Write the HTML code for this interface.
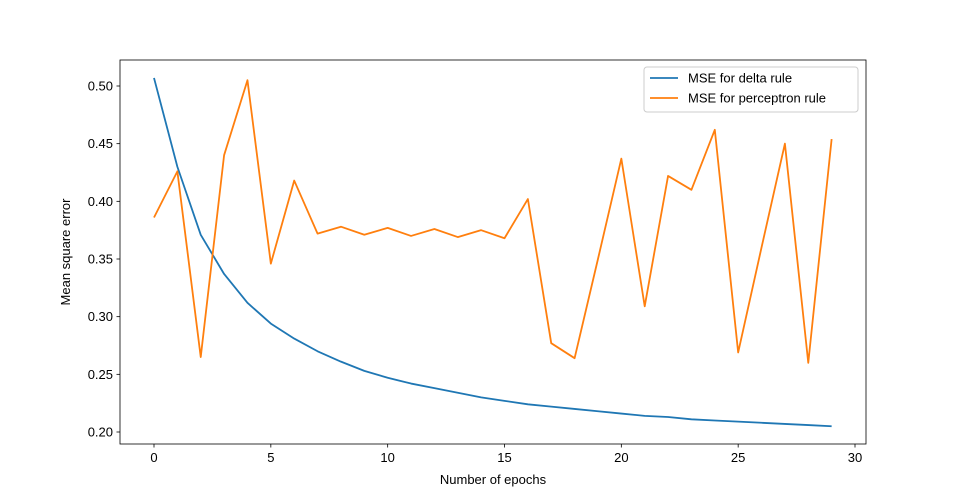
<!DOCTYPE html>
<html><head><meta charset="utf-8"><style>
body{margin:0;background:#fff;}
svg{display:block;font-family:"Liberation Sans","DejaVu Sans",sans-serif;}
</style></head><body>
<svg id="chart" width="961" height="499"></svg>
<script>
const epochs = [0,1,2,3,4,5,6,7,8,9,10,11,12,13,14,15,16,17,18,19,20,21,22,23,24,25,26,27,28,29];
const deltaMSE = [0.507,0.430,0.371,0.337,0.312,0.294,0.281,0.270,0.261,0.253,0.247,0.242,0.238,0.234,0.230,0.227,0.224,0.222,0.220,0.218,0.216,0.214,0.213,0.211,0.210,0.209,0.208,0.207,0.206,0.205];
const perceptronMSE = [0.386,0.426,0.265,0.440,0.505,0.346,0.418,0.372,0.378,0.371,0.377,0.370,0.376,0.369,0.375,0.368,0.402,0.277,0.264,0.350,0.437,0.309,0.422,0.410,0.462,0.269,0.360,0.450,0.260,0.454];
const xTicks = [0,5,10,15,20,25,30];
const yTicks = [0.20,0.25,0.30,0.35,0.40,0.45,0.50];

const L=120,R=866,T=60,B=444;
const xs = v => 154 + v*(855-154)/30;
const ys = v => 432 - (v-0.20)*(432-86)/0.30;
const svg=document.getElementById('chart');
const NS='http://www.w3.org/2000/svg';
function mk(tag,attrs,parent){const e=document.createElementNS(NS,tag);for(const k in attrs)e.setAttribute(k,attrs[k]);(parent||svg).appendChild(e);return e;}

const frame=mk('rect',{x:L,y:T,width:R-L,height:B-T,fill:'none',stroke:'#000','stroke-width':0.8});



xTicks.forEach(t=>{
  const g=mk('g',{});
  
  
  mk('line',{x1:xs(t),x2:xs(t),y1:B,y2:B+3.5,stroke:'#000','stroke-width':0.8},g);
  const tx=mk('text',{x:xs(t),y:B+18,'text-anchor':'middle','font-size':13},g);tx.textContent=t;
});
yTicks.forEach(t=>{
  const g=mk('g',{});
  
  
  mk('line',{x1:L-3.5,x2:L,y1:ys(t),y2:ys(t),stroke:'#000','stroke-width':0.8},g);
  const tx=mk('text',{x:L-7,y:ys(t)+4.5,'text-anchor':'end','font-size':13},g);tx.textContent=t.toFixed(2);
});

const xl=mk('text',{x:(L+R)/2,y:484,'text-anchor':'middle','font-size':13});xl.textContent='Number of epochs';


const yl=mk('text',{x:0,y:0,'text-anchor':'middle','font-size':13,transform:`translate(70,${(T+B)/2}) rotate(-90)`});yl.textContent='Mean square error';



function series(vals,color,name){
  const p=mk('polyline',{points:vals.map((v,i)=>xs(epochs[i])+','+ys(v)).join(' '),fill:'none',stroke:color,'stroke-width':1.8,'stroke-linejoin':'round'});
  
  
}
series(deltaMSE,'#1f77b4','delta-rule-line');
series(perceptronMSE,'#ff7f0e','perceptron-rule-line');

const lg=mk('g',{});


mk('rect',{x:644,y:67,width:214,height:45,rx:3,fill:'#fff','fill-opacity':0.8,stroke:'#ccc'},lg);
[['MSE for delta rule','#1f77b4',78],['MSE for perceptron rule','#ff7f0e',98]].forEach(([lab,c,y],i)=>{
  const g=mk('g',{},lg);
  
  
  mk('line',{x1:650,x2:678,y1:y,y2:y,stroke:c,'stroke-width':1.8},g);
  const t=mk('text',{x:688,y:y+4.5,'font-size':13},g);t.textContent=lab;
});
</script>
</body></html>
